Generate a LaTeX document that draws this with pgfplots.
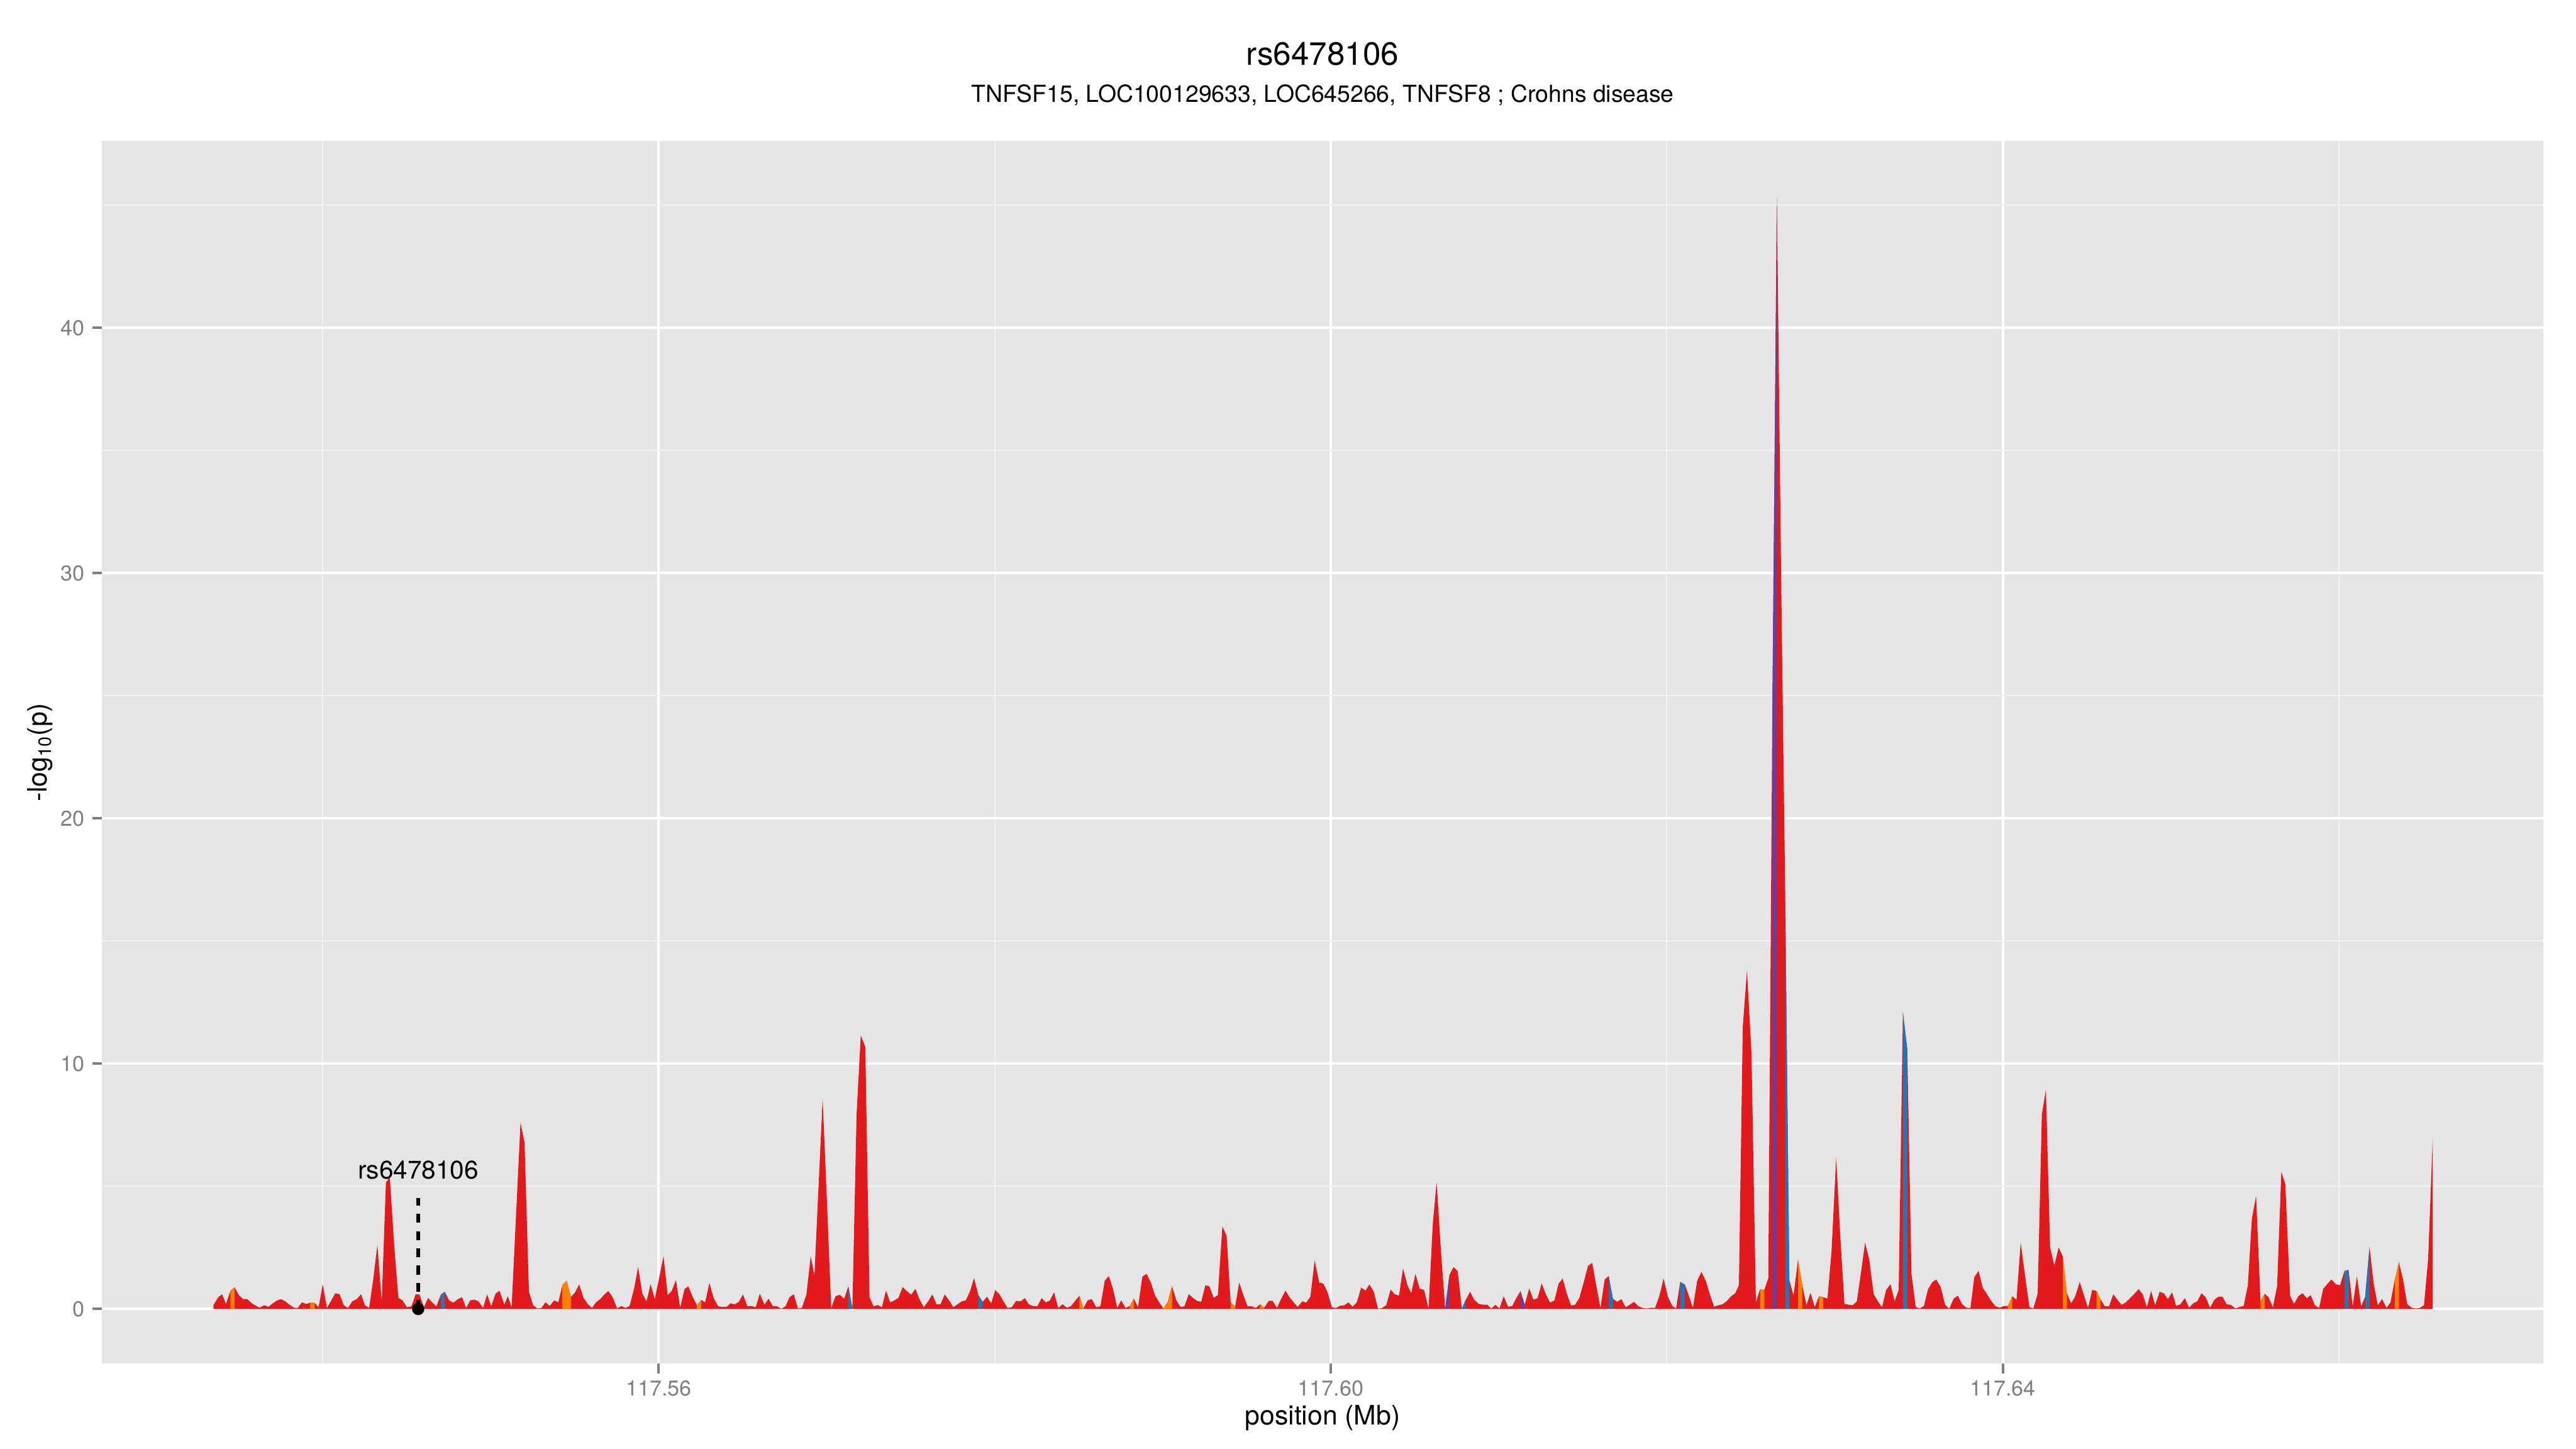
\documentclass[border=0pt]{standalone}
\usepackage{pgfplots}
\pgfplotsset{compat=1.18}
\usepackage{pgfplotstable}
\usepackage{fontspec}
\setmainfont{TeX Gyre Heros}
\definecolor{panel}{HTML}{E5E5E5}
\definecolor{minorgrid}{HTML}{F2F2F2}
\definecolor{tickgrey}{HTML}{7F7F7F}
\definecolor{cRed}{HTML}{E31A1C}
\definecolor{cOr}{HTML}{FF7F00}
\definecolor{cBlue}{HTML}{1F78B4}
\definecolor{cPur}{HTML}{6A3D9A}
% x = position in kb after 117.5 Mb (117.56 Mb -> 60)
\pgfplotstableread{
x y
33.50 0
33.50 0.15
33.79 0.48
34.02 0.6
34.25 0.2
34.51 0.73
34.76 0.89
35.02 0.56
35.27 0.4
35.52 0.4
35.79 0.23
36.24 0.05
36.53 0.15
36.78 0.09
37.04 0.23
37.30 0.35
37.53 0.4
37.78 0.31
38.04 0.17
38.30 0.05
38.52 0.04
38.77 0.27
39.04 0.2
39.26 0.26
39.53 0.25
39.76 0.07
40.01 1.0
40.26 0.04
40.52 0.35
40.76 0.64
41.01 0.6
41.26 0.15
41.51 0.04
41.77 0.31
42.03 0.4
42.29 0.6
42.52 0.15
42.77 0.04
43.01 1.18
43.26 2.6
43.52 0.31
43.77 5.15
44.00 5.38
44.26 2.62
44.51 0.45
44.76 0.35
45.02 0.07
45.29 0.11
45.54 0.6
45.77 0.59
46.03 0.07
46.28 0.45
46.53 0.26
46.77 0.11
47.04 0.59
47.27 0.7
47.53 0.35
47.79 0.26
48.05 0.4
48.30 0.48
48.54 0.04
48.79 0.35
49.04 0.38
49.28 0.31
49.55 0.04
49.79 0.59
50.04 0.11
50.29 0.62
50.53 0.74
50.82 0.17
51.02 0.52
51.25 0.07
51.78 7.6
52.02 6.78
52.28 0.7
52.53 0.15
52.78 0.02
53.02 0.04
53.27 0.27
53.52 0.12
53.78 0.35
54.03 0.27
54.27 0.97
54.52 1.15
54.78 0.48
55.02 0.67
55.27 1.0
55.53 0.45
55.78 0.2
56.03 0.04
56.27 0.27
56.52 0.4
56.77 0.59
57.01 0.73
57.26 0.48
57.53 0.02
57.78 0.12
58.03 0.04
58.27 0.12
58.54 0.83
58.78 1.71
59.03 0.62
59.28 0.31
59.52 1.01
59.77 0.4
60.03 1.26
60.29 2.15
60.54 0.56
60.78 0.74
61.03 1.18
61.28 0.04
61.54 0.81
61.77 0.92
62.02 0.5
62.28 0.15
62.53 0.37
62.77 0.27
63.02 1.06
63.27 0.45
63.54 0.11
63.79 0.08
64.03 0.08
64.28 0.23
64.53 0.19
64.77 0.29
65.02 0.59
65.28 0.11
65.53 0.12
65.78 0.07
66.02 0.62
66.30 0.17
66.54 0.42
66.79 0.12
67.04 0.11
67.30 0.01
67.55 0.11
67.79 0.48
68.04 0.6
68.29 0.02
68.53 0.05
68.70 0.4
68.79 0.56
69.05 2.15
69.27 1.36
69.76 8.56
70.02 4.3
70.27 0.04
70.53 0.52
70.78 0.58
71.04 0.42
71.29 0.92
71.53 0.02
71.78 7.94
72.03 11.15
72.30 10.68
72.55 0.48
72.79 0.11
73.04 0.16
73.29 0.07
73.53 0.75
73.78 0.27
74.03 0.35
74.27 0.45
74.52 0.89
74.77 0.73
75.03 0.58
75.28 0.82
75.52 0.4
75.78 0.07
76.04 0.31
76.29 0.59
76.54 0.19
76.78 0.2
77.03 0.59
77.28 0.35
77.54 0.07
77.79 0.19
78.03 0.31
78.28 0.35
78.54 0.73
78.77 1.26
79.03 0.56
79.29 0.29
79.54 0.5
79.79 0.23
80.03 0.77
80.28 0.6
80.53 0.3
80.77 0.04
81.02 0.07
81.27 0.33
81.54 0.31
81.79 0.44
82.03 0.19
82.28 0.12
82.54 0.11
82.79 0.44
83.04 0.27
83.28 0.34
83.53 0.68
83.78 0.04
84.04 0.19
84.29 0.05
84.53 0.11
84.79 0.33
85.04 0.54
85.28 0.02
85.53 0.35
85.78 0.4
86.04 0.07
86.29 0.11
86.55 1.15
86.79 1.34
87.04 0.82
87.29 0.04
87.53 0.35
87.79 0.04
88.04 0.12
88.28 0.42
88.53 0.07
88.79 1.32
89.04 1.43
89.29 1.08
89.55 0.54
89.80 0.26
90.04 0.02
90.29 0.27
90.55 0.93
90.81 0.35
91.06 0.08
91.29 0.11
91.55 0.6
91.80 0.45
92.04 0.33
92.29 0.29
92.54 0.97
92.78 0.92
93.03 0.45
93.28 0.56
93.55 3.36
93.80 2.99
94.04 0.27
94.31 0.09
94.55 1.08
94.80 0.56
95.05 0.11
95.29 0.11
95.54 0.04
95.79 0.19
96.05 0.06
96.31 0.33
96.54 0.33
96.80 0.04
97.05 0.42
97.31 0.75
97.54 0.48
97.79 0.27
98.03 0.08
98.30 0.31
98.54 0.26
98.79 0.5
99.04 1.98
99.31 1.08
99.56 1.03
99.80 0.7
100.07 0.07
100.31 0.04
100.56 0.13
100.81 0.15
101.05 0.27
101.30 0.09
101.55 0.27
101.81 0.87
102.07 0.75
102.30 1.0
102.56 0.7
102.81 0.01
103.05 0.04
103.30 0.15
103.56 0.79
103.81 0.6
104.06 0.54
104.30 1.65
104.56 0.97
104.79 0.64
105.04 1.43
105.29 0.83
105.55 0.78
105.82 0.02
106.07 3.45
106.30 5.18
106.56 2.33
106.81 0.01
107.06 1.38
107.30 1.71
107.55 1.55
107.80 0.02
108.04 0.38
108.29 0.7
108.54 0.37
108.80 0.21
109.07 0.17
109.32 0.17
109.55 0.02
109.80 0.17
110.04 0.02
110.29 0.52
110.55 0.09
110.80 0.12
111.05 0.45
111.29 0.73
111.54 0.17
111.81 0.83
112.06 0.38
112.31 0.44
112.55 1.04
112.80 0.6
113.05 0.26
113.31 0.35
113.56 1.03
113.80 1.24
114.05 0.62
114.30 0.14
114.54 0.17
114.79 0.44
115.06 1.1
115.31 1.76
115.56 1.88
115.80 0.95
116.05 0.04
116.30 1.2
116.54 1.34
116.79 0.42
117.04 0.29
117.30 0.4
117.55 0.07
117.79 0.17
118.04 0.29
118.31 0.11
118.56 0.04
118.81 0.02
119.07 0.05
119.30 0.04
119.55 0.52
119.81 1.24
120.06 0.5
120.33 0.12
120.55 0.02
120.80 1.1
121.07 1.0
121.32 0.52
121.55 0.04
121.81 1.16
122.06 1.51
122.32 1.14
122.56 0.6
122.81 0.09
123.06 0.15
123.30 0.19
123.55 0.31
123.80 0.5
124.07 0.64
124.29 0.97
124.52 11.5
124.77 13.8
125.04 10.4
125.30 0.27
125.55 0.81
125.80 0.77
126.04 1.26
126.29 25.3
126.55 45.3
126.80 30.0
127.05 16.6
127.29 1.18
127.54 0.54
127.81 2.02
128.06 0.97
128.31 0.15
128.55 0.66
128.80 0.07
129.06 0.52
129.31 0.48
129.56 0.42
129.80 2.33
130.08 6.17
130.32 2.99
130.57 0.21
130.82 0.17
131.06 0.15
131.31 0.31
131.56 1.51
131.80 2.7
132.05 2.0
132.31 0.6
132.56 0.31
132.81 0.07
133.05 0.77
133.31 1.01
133.56 0.31
133.80 0.78
134.05 12.1
134.31 10.58
134.56 1.43
134.81 0.08
135.05 0.02
135.30 0.12
135.55 0.81
135.81 1.1
136.04 1.2
136.30 0.89
136.56 0.17
136.81 0.01
137.07 0.42
137.32 0.54
137.58 0.19
137.83 0.05
138.07 0.04
138.30 1.3
138.55 1.55
138.80 0.87
139.06 0.6
139.32 0.31
139.56 0.11
139.81 0.05
140.06 0.12
140.30 0.12
140.56 0.52
140.81 0.37
141.06 2.7
141.32 1.34
141.58 0.07
141.81 0.02
142.07 0.62
142.32 7.94
142.56 8.93
142.81 2.5
143.06 1.77
143.32 2.51
143.57 2.13
143.81 0.64
144.06 0.23
144.31 0.52
144.57 1.1
144.83 0.54
145.07 0.04
145.32 0.78
145.57 0.73
145.81 0.4
146.06 0.11
146.32 0.11
146.57 0.6
146.82 0.37
147.06 0.17
147.31 0.26
147.57 0.44
147.83 0.62
148.08 0.81
148.32 0.6
148.57 0.07
148.82 0.73
149.06 0.15
149.33 0.7
149.57 0.64
149.82 0.4
150.07 0.68
150.31 0.12
150.56 0.19
150.83 0.44
151.08 0.05
151.33 0.23
151.57 0.31
151.82 0.64
152.07 0.48
152.33 0.05
152.58 0.37
152.82 0.5
153.07 0.5
153.32 0.19
153.56 0.17
153.84 0.02
154.08 0.08
154.33 0.13
154.58 0.97
154.82 3.69
155.07 4.6
155.33 0.31
155.58 0.62
155.81 0.48
156.07 0.07
156.32 0.93
156.57 5.59
156.81 5.09
157.09 0.54
157.33 0.2
157.58 0.52
157.83 0.64
158.09 0.44
158.32 0.56
158.57 0.15
158.82 0.04
159.06 0.81
159.32 1.03
159.56 1.2
159.83 1.0
160.07 0.97
160.33 1.55
160.57 1.59
160.82 0.11
161.07 1.33
161.32 0.11
161.56 0.5
161.82 2.54
162.06 1.06
162.31 0.15
162.57 0.4
162.83 0.04
163.07 0.27
163.32 1.18
163.57 1.9
163.82 1.18
164.06 0.2
164.33 0.05
164.56 0.02
164.81 0.04
165.06 0.15
165.31 2.04
165.58 6.95
165.58 0
}\redtab

\begin{document}
\begin{tikzpicture}
\useasboundingbox (-45.6pt,-38.16pt) rectangle (1106.4pt,609.84pt);
\begin{axis}[
  at={(0pt,0pt)}, anchor=south west,
  scale only axis, width=1091.76pt, height=546.72pt,
  xmin=26.87, xmax=172.16, ymin=-2.23, ymax=47.61,
  axis line style={draw=none},
  axis background/.style={fill=panel},
  xtick={60,100,140}, xticklabels={117.56,117.60,117.64},
  minor xtick={40,80,120,160},
  ytick={0,10,20,30,40}, minor ytick={5,15,25,35,45},
  grid=both,
  major grid style={white, line width=1.2pt},
  minor grid style={minorgrid, line width=0.6pt},
  tick align=outside, major tick length=4.3pt, minor tick length=0pt,
  tick pos=left,
  major tick style={tickgrey, line width=1.1pt},
  minor tick style={draw=none},
  /pgf/number format/assume math mode=true,
  ticklabel style={font=\fontsize{9.6pt}{11pt}\selectfont, text=tickgrey, inner sep=0pt},
  xticklabel style={anchor=base, yshift=-10.1pt},
  yticklabel style={anchor=east, xshift=-3.2pt},
  xlabel={position (Mb)}, ylabel={-log\textsubscript{10}(p)},
  label style={font=\fontsize{12pt}{14pt}\selectfont, inner sep=0pt},
  xlabel style={at={(axis description cs:0.5,-0.05012)}, anchor=base},
  ylabel style={at={(axis description cs:-0.02244,0.5)}, anchor=base, rotate=0},
]
\addplot[fill=cRed, draw=none] table[x=x, y=y] {\redtab};
% orange segments
\addplot[fill=cOr, draw=none] coordinates {(34.51,0)(34.51,0.73)(34.76,0.89)(34.76,0)} -- cycle;
\addplot[fill=cOr, draw=none] coordinates {(39.26,0)(39.26,0.26)(39.53,0.25)(39.53,0)} -- cycle;
\addplot[fill=cOr, draw=none] coordinates {(54.27,0)(54.27,0.97)(54.52,1.15)(54.78,0.48)(54.78,0)} -- cycle;
\addplot[fill=cOr, draw=none] coordinates {(62.28,0)(62.28,0.15)(62.53,0.37)(62.53,0)} -- cycle;
\addplot[fill=cOr, draw=none] coordinates {(85.04,0)(85.04,0.54)(85.28,0.02)(85.28,0)} -- cycle;
\addplot[fill=cOr, draw=none] coordinates {(88.04,0)(88.04,0.12)(88.28,0.42)(88.28,0)} -- cycle;
\addplot[fill=cOr, draw=none] coordinates {(90.04,0)(90.04,0.02)(90.29,0.27)(90.55,0.93)(90.55,0)} -- cycle;
\addplot[fill=cOr, draw=none] coordinates {(94.04,0)(94.04,0.27)(94.31,0.09)(94.31,0)} -- cycle;
\addplot[fill=cOr, draw=none] coordinates {(95.79,0)(95.79,0.19)(96.05,0.06)(96.05,0)} -- cycle;
\addplot[fill=cOr, draw=none] coordinates {(125.55,0)(125.55,0.81)(125.80,0.77)(125.80,0)} -- cycle;
\addplot[fill=cOr, draw=none] coordinates {(127.81,0)(127.81,2.02)(128.06,0.97)(128.06,0)} -- cycle;
\addplot[fill=cOr, draw=none] coordinates {(129.06,0)(129.06,0.52)(129.31,0.48)(129.31,0)} -- cycle;
\addplot[fill=cOr, draw=none] coordinates {(140.30,0)(140.30,0.12)(140.56,0.52)(140.56,0)} -- cycle;
\addplot[fill=cOr, draw=none] coordinates {(143.57,0)(143.57,2.13)(143.81,0.64)(143.81,0)} -- cycle;
\addplot[fill=cOr, draw=none] coordinates {(145.57,0)(145.57,0.73)(145.81,0.4)(145.81,0)} -- cycle;
\addplot[fill=cOr, draw=none] coordinates {(155.33,0)(155.33,0.31)(155.58,0.62)(155.58,0)} -- cycle;
\addplot[fill=cOr, draw=none] coordinates {(163.32,0)(163.32,1.18)(163.57,1.9)(163.57,0)} -- cycle;
% blue segments
\addplot[fill=cBlue, draw=none] coordinates {(47.04,0)(47.04,0.59)(47.27,0.7)(47.27,0)} -- cycle;
\addplot[fill=cBlue, draw=none] coordinates {(71.29,0)(71.29,0.92)(71.53,0.02)(71.53,0)} -- cycle;
\addplot[fill=cBlue, draw=none] coordinates {(79.03,0)(79.03,0.56)(79.29,0.29)(79.29,0)} -- cycle;
\addplot[fill=cBlue, draw=none] coordinates {(107.80,0)(107.80,0.02)(108.04,0.38)(108.04,0)} -- cycle;
\addplot[fill=cBlue, draw=none] coordinates {(116.54,0)(116.54,1.34)(116.79,0.42)(116.79,0)} -- cycle;
\addplot[fill=cBlue, draw=none] coordinates {(120.80,0)(120.80,1.1)(121.07,1.0)(121.07,0)} -- cycle;
\addplot[fill=cBlue, draw=none] coordinates {(127.05,0)(127.05,16.6)(127.29,1.18)(127.29,0)} -- cycle;
\addplot[fill=cBlue, draw=none] coordinates {(134.05,0)(134.05,12.1)(134.31,10.58)(134.31,0)} -- cycle;
\addplot[fill=cBlue, draw=none] coordinates {(160.33,0)(160.33,1.55)(160.57,1.59)(160.57,0)} -- cycle;
\addplot[fill=cBlue, draw=none] coordinates {(161.56,0)(161.56,0.5)(161.82,2.54)(161.82,0)} -- cycle;
% purple segments
\addplot[fill=cPur, draw=none] coordinates {(106.81,0)(106.81,0.01)(107.06,1.38)(107.06,0)} -- cycle;
\addplot[fill=cPur, draw=none] coordinates {(111.29,0)(111.29,0.73)(111.54,0.17)(111.54,0)} -- cycle;
\addplot[fill=cPur, draw=none] coordinates {(126.29,0)(126.29,25.3)(126.55,45.3)(126.55,0)} -- cycle;
% annotated SNP
\addplot[black, line width=1.7pt, dash pattern=on 4pt off 3.7pt] coordinates {(45.69,0)(45.69,4.52)};
\addplot[only marks, mark=*, mark size=2.55pt, black] coordinates {(45.69,0)};
\node[anchor=base, font=\fontsize{11.4pt}{13pt}\selectfont, inner sep=0pt] at (axis cs:45.69,5.30) {rs6478106};
\end{axis}
\node[anchor=base, font=\fontsize{14.4pt}{17pt}\selectfont, inner sep=0pt] at (545.88pt,580.6pt) {rs6478106};
\node[anchor=base, font=\fontsize{10.5pt}{12pt}\selectfont, inner sep=0pt] at (545.88pt,564pt) {TNFSF15, LOC100129633, LOC645266, TNFSF8 ; Crohns disease};
\end{tikzpicture}
\end{document}
